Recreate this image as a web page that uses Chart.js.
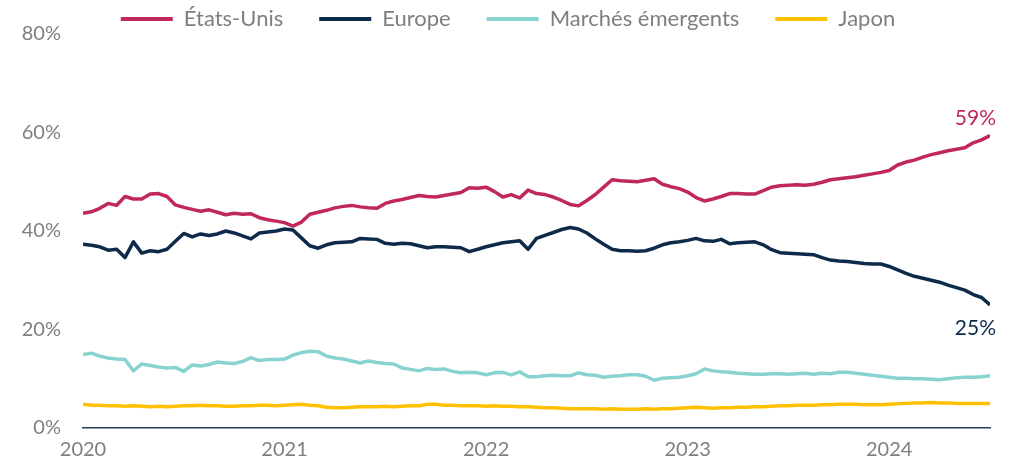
<!DOCTYPE html>
<html>
<head>
<meta charset="utf-8">
<script src="https://cdn.jsdelivr.net/npm/chart.js@4/dist/chart.umd.min.js"></script>
<style>
  html, body { margin: 0; padding: 0; background: #fff; }
  #wrap { width: 1015px; height: 469px; }
</style>
</head>
<body>
<div id="wrap"><canvas id="myChart" width="1015" height="469"></canvas></div>
<script>
// Half-month sample dates, Jan 2020 -> Jul 2024 (decimal years)
const dates = [];
for (let i = 0; i <= 108; i++) dates.push(2020 + i / 24);

const yearTicks = [2020, 2021, 2022, 2023, 2024];
const seriesNames = ["États-Unis", "Europe", "Marchés émergents", "Japon"];

const usValues = [
  43.6, 43.9, 44.6, 45.6, 45.2, 47.0, 46.5, 46.5, 47.5, 47.6,
  47.0, 45.3, 44.8, 44.4, 44.0, 44.3, 43.8, 43.3, 43.6, 43.4,
  43.5, 42.7, 42.3, 42.0, 41.7, 41.0, 41.8, 43.4, 43.8, 44.2,
  44.7, 45.0, 45.2, 44.9, 44.7, 44.6, 45.6, 46.1, 46.4, 46.8,
  47.2, 47.0, 46.9, 47.2, 47.5, 47.8, 48.8, 48.7, 48.9, 48.0,
  46.9, 47.4, 46.7, 48.3, 47.6, 47.4, 46.9, 46.2, 45.4, 45.1,
  46.2, 47.4, 48.9, 50.4, 50.2, 50.1, 50.0, 50.3, 50.6, 49.5,
  49.0, 48.6, 47.9, 46.8, 46.1, 46.5, 47.0, 47.6, 47.6, 47.5,
  47.5, 48.2, 48.9, 49.2, 49.3, 49.4, 49.3, 49.5, 49.9, 50.4,
  50.6, 50.8, 51.0, 51.3, 51.6, 51.9, 52.3, 53.4, 54.0, 54.4,
  55.0, 55.5, 55.9, 56.3, 56.6, 56.9, 57.9, 58.5, 59.4
];

const europeValues = [
  37.3, 37.1, 36.8, 36.1, 36.3, 34.6, 37.8, 35.5, 36.0, 35.8,
  36.3, 37.9, 39.5, 38.8, 39.4, 39.1, 39.4, 40.0, 39.6, 39.0,
  38.4, 39.6, 39.8, 40.0, 40.4, 40.2, 38.6, 37.0, 36.5, 37.2,
  37.6, 37.7, 37.8, 38.5, 38.4, 38.3, 37.5, 37.3, 37.5, 37.4,
  37.0, 36.6, 36.8, 36.8, 36.7, 36.6, 35.8, 36.3, 36.8, 37.2,
  37.6, 37.8, 38.0, 36.3, 38.5, 39.1, 39.7, 40.3, 40.7, 40.4,
  39.6, 38.4, 37.3, 36.3, 36.0, 36.0, 35.9, 36.0, 36.5, 37.2,
  37.6, 37.8, 38.1, 38.5, 38.0, 37.9, 38.3, 37.4, 37.6, 37.7,
  37.8, 37.2, 36.2, 35.6, 35.5, 35.4, 35.3, 35.2, 34.6, 34.1,
  33.9, 33.8, 33.6, 33.4, 33.3, 33.3, 32.8, 32.1, 31.4, 30.8,
  30.4, 30.0, 29.6, 29.0, 28.5, 28.0, 27.1, 26.5, 25.0
];

const emValues = [
  14.9, 15.2, 14.6, 14.2, 14.0, 13.9, 11.6, 13.0, 12.7, 12.4,
  12.2, 12.3, 11.5, 12.8, 12.6, 12.9, 13.4, 13.2, 13.1, 13.5,
  14.3, 13.7, 13.9, 13.9, 14.0, 14.8, 15.3, 15.6, 15.5, 14.6,
  14.2, 14.0, 13.6, 13.2, 13.6, 13.3, 13.1, 13.0, 12.2, 11.9,
  11.6, 12.1, 11.9, 12.0, 11.5, 11.2, 11.3, 11.2, 10.8, 11.2,
  11.3, 10.8, 11.4, 10.4, 10.4, 10.6, 10.7, 10.6, 10.6, 11.2,
  10.8, 10.7, 10.3, 10.5, 10.6, 10.8, 10.8, 10.5, 9.7, 10.1,
  10.2, 10.3, 10.6, 11.0, 12.0, 11.6, 11.4, 11.3, 11.1, 11.0,
  10.9, 10.9, 11.0, 11.0, 10.9, 11.0, 11.1, 10.9, 11.1, 11.0,
  11.3, 11.3, 11.1, 10.9, 10.7, 10.5, 10.3, 10.1, 10.1, 10.0,
  10.0, 9.9, 9.8, 10.0, 10.2, 10.3, 10.3, 10.4, 10.6
];

const japanValues = [
  4.8, 4.6, 4.6, 4.5, 4.5, 4.4, 4.5, 4.4, 4.3, 4.4,
  4.3, 4.4, 4.5, 4.5, 4.6, 4.5, 4.5, 4.4, 4.4, 4.5,
  4.5, 4.6, 4.6, 4.5, 4.6, 4.7, 4.8, 4.6, 4.5, 4.2,
  4.1, 4.1, 4.2, 4.3, 4.3, 4.3, 4.4, 4.3, 4.4, 4.5,
  4.5, 4.8, 4.8, 4.6, 4.6, 4.5, 4.5, 4.5, 4.4, 4.5,
  4.4, 4.4, 4.3, 4.3, 4.2, 4.1, 4.1, 4.0, 3.9, 3.9,
  3.9, 3.9, 3.8, 3.9, 3.8, 3.8, 3.8, 3.9, 3.8, 3.9,
  3.9, 4.0, 4.1, 4.2, 4.1, 4.0, 4.1, 4.1, 4.2, 4.2,
  4.3, 4.3, 4.4, 4.5, 4.5, 4.6, 4.6, 4.6, 4.7, 4.7,
  4.8, 4.8, 4.8, 4.7, 4.7, 4.7, 4.8, 4.9, 5.0, 5.1,
  5.1, 5.2, 5.1, 5.1, 5.0, 5.0, 5.0, 5.0, 5.0
];

const colors = ["#C0285A", "#0E2A4A", "#88D3D0", "#FFC000"];
const gray = "#7F7F7F";
const fontFamily = "Lato, 'Open Sans', sans-serif";

function toPoints(values) {
    return values.map((v, i) => ({ x: dates[i], y: v }));
}

// Writes the last value next to the end of the US and Europe lines
const endLabels = {
    id: "endLabels",
    afterDatasetsDraw(chart) {
        const ctx = chart.ctx;
        const xs = chart.scales.x;
        const ys = chart.scales.y;
        const last = dates.length - 1;
        const items = [
            { v: usValues[last], color: colors[0], dy: -17 },
            { v: europeValues[last], color: colors[1], dy: 23 }
        ];
        ctx.save();
        ctx.font = "21px " + fontFamily;
        ctx.textAlign = "right";
        ctx.textBaseline = "middle";
        items.forEach(it => {
            const px = xs.getPixelForValue(dates[last]);
            const py = ys.getPixelForValue(it.v);
            ctx.fillStyle = it.color;
            ctx.fillText(Math.round(it.v) + "%", px + 6, py + it.dy);
        });
        ctx.restore();
    }
};

// Centre the legend on the whole canvas, not on the padded area
const legendShift = {
    id: "legendShift",
    afterLayout(chart) {
        if (chart.legend) {
            chart.legend.left += 13;
            chart.legend.right += 13;
        }
    }
};

const allValues = [usValues, europeValues, emValues, japanValues];

const ctx = document.getElementById("myChart").getContext("2d");
const chart = new Chart(ctx, {
    type: "line",
    data: {
        datasets: seriesNames.map((name, k) => ({
            label: name,
            data: toPoints(allValues[k]),
            borderColor: colors[k],
            backgroundColor: colors[k],
            borderWidth: 3.5,
            pointRadius: 0,
            tension: 0,
            borderJoinStyle: "round"
        }))
    },
    options: {
        responsive: false,
        animation: false,
        layout: {
            padding: { top: -30, right: 25, left: 0, bottom: 0 }
        },
        scales: {
            x: {
                type: "linear",
                min: 2020,
                max: dates[dates.length - 1],
                afterBuildTicks: (scale) => {
                    scale.ticks = yearTicks.map(v => ({ value: v }));
                },
                afterFit: (scale) => { scale.height = 41; },
                grid: { display: false, drawTicks: false },
                border: { display: true, color: "#27415F", width: 1.5 },
                ticks: {
                    color: gray,
                    font: { family: fontFamily, size: 20 },
                    padding: 10,
                    maxRotation: 0,
                    callback: (v) => String(v)
                }
            },
            y: {
                min: 0,
                max: 80,
                afterFit: (scale) => { scale.width = 83; },
                grid: { display: false, drawTicks: false },
                border: { display: false },
                ticks: {
                    stepSize: 20,
                    color: gray,
                    font: { family: fontFamily, size: 20 },
                    padding: 22,
                    callback: (v) => v + "%"
                }
            }
        },
        plugins: {
            legend: {
                display: true,
                position: "top",
                maxHeight: 62,
                labels: {
                    color: gray,
                    font: { family: fontFamily, size: 22 },
                    boxWidth: 52,
                    boxHeight: 4,
                    padding: 36,
                    generateLabels: (c) => {
                        const items = Chart.defaults.plugins.legend.labels.generateLabels(c);
                        items.forEach(it => { it.lineWidth = 0; });
                        return items;
                    }
                }
            },
            tooltip: { enabled: false }
        }
    },
    plugins: [endLabels, legendShift]
});
</script>
</body>
</html>
